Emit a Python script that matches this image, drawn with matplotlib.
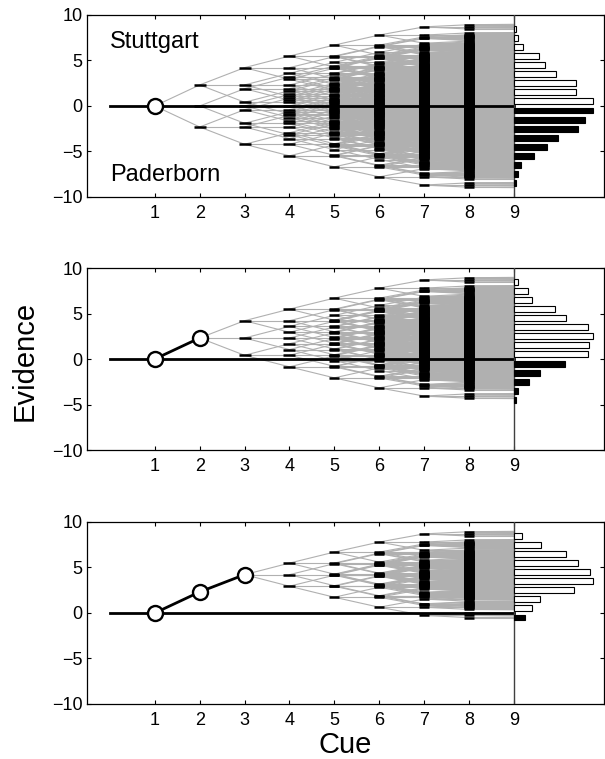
import numpy as np
import matplotlib
matplotlib.use("Agg")
import matplotlib.pyplot as plt
from matplotlib.collections import LineCollection

plt.rcParams['font.family'] = ['Liberation Sans', 'DejaVu Sans']

# evidence weights (log odds) of the cues, in the order they are looked up
cue_weights = [2.31, 1.90, 1.27, 1.21, 1.10, 0.90, 0.24, 0.04]
# number of cues already known (all pointing to Stuttgart) in each panel
known_cues = [0, 1, 2]

# final evidence distribution at cue 9, percent of cases per unit bin
bin_centres = [0.5, 1.5, 2.5, 3.5, 4.5, 5.5, 6.5, 7.5, 8.5]
stuttgart_pct = [
    [12.2, 9.7, 9.7, 6.6, 4.9, 3.9, 1.4, 0.7, 0.3],
    [14.1, 14.2, 15.0, 14.1, 9.9, 7.7, 3.4, 2.6, 0.7],
    [4.4, 6.2, 14.1, 18.7, 18.0, 15.2, 12.4, 6.5, 2.0],
]
paderborn_pct = [
    [12.3, 11.0, 9.9, 6.8, 5.2, 3.1, 1.1, 0.7, 0.4],
    [9.6, 5.0, 2.8, 0.7, 0.4],
    [2.6],
]

# largura dos tracinhos em cada coluna (colunas densas ficam mais finas)
largura_marca = {2: 8.5, 3: 8.5, 4: 8.0, 5: 7.0, 6: 6.5, 7: 6.5, 8: 6.5}

fig = plt.figure(figsize=(6.05, 7.59), dpi=100)
bottoms = [0.7405, 0.4071, 0.0725]


def desenha_painel(ax, n_known, pos, neg):
    caminho = np.concatenate([[0.0], np.cumsum(cue_weights[:n_known])])
    nivel = np.array([caminho[-1]])
    segs = []
    nos = []
    for k in range(n_known, len(cue_weights)):
        x0 = k + 1
        w = cue_weights[k]
        novos = []
        for d in (-1, 0, 1):
            prox = nivel + d * w
            s = np.zeros((len(nivel), 2, 2))
            s[:, 0, 0] = x0
            s[:, 0, 1] = nivel
            s[:, 1, 0] = x0 + 1
            s[:, 1, 1] = prox
            segs.append(s)
            novos.append(prox)
        nivel = np.unique(np.round(np.concatenate(novos), 6))
        if x0 + 1 <= 8:
            nos.append((x0 + 1, nivel))

    lc = LineCollection(np.concatenate(segs), colors='#b0b0b0', linewidths=0.8, zorder=1)
    ax.add_collection(lc)

    for x, vals in nos:
        ax.plot(np.full(len(vals), x), vals, ls='none', marker='_', ms=largura_marca[x],
                mew=1.8, color='black', zorder=2)

    ax.plot([0, 9], [0, 0], color='black', lw=2, zorder=3)
    ax.plot(np.arange(1, len(caminho) + 1), caminho, color='black', lw=2, zorder=4)
    ax.plot(np.arange(1, len(caminho) + 1), caminho, ls='none', marker='o', ms=10.8,
            mew=1.7, mfc='white', mec='black', zorder=5)

    ax.axvline(9, color='0.25', lw=1, zorder=3)

    escala = 1.77 / max(max(pos), max(neg))
    centros = np.array(bin_centres)
    ax.barh(centros[:len(pos)], np.array(pos) * escala, height=0.65, left=9,
            color='white', edgecolor='black', linewidth=0.8, zorder=4)
    ax.barh(-centros[:len(neg)], np.array(neg) * escala, height=0.65, left=9,
            color='black', edgecolor='black', linewidth=0.8, zorder=4)

    ax.set_xlim(-0.5, 11)
    ax.set_ylim(-10, 10)
    ax.set_xticks(range(1, 10))
    ax.set_yticks([-10, -5, 0, 5, 10])
    ax.tick_params(direction='in', top=True, right=True, length=3, labelsize=13,
                   width=0.8)
    ax.tick_params(axis='x', pad=6)
    for sp in ax.spines.values():
        sp.set_linewidth(0.9)


for i in range(3):
    ax = fig.add_axes([0.1446, bottoms[i], 0.853, 0.2398])
    desenha_painel(ax, known_cues[i], stuttgart_pct[i], paderborn_pct[i])
    if i == 0:
        ax.text(0, 7.07, 'Stuttgart', fontsize=17, va='center', ha='left')
        ax.text(0, -7.6, 'Paderborn', fontsize=17, va='center', ha='left')

fig.text(25 / 605, 1 - 361 / 759, 'Evidence', rotation=90, fontsize=21,
         ha='center', va='center')
fig.text(345 / 605, 1 - 745 / 759, 'Cue', fontsize=21, ha='center', va='center')

fig.savefig('out.png', dpi=100)
